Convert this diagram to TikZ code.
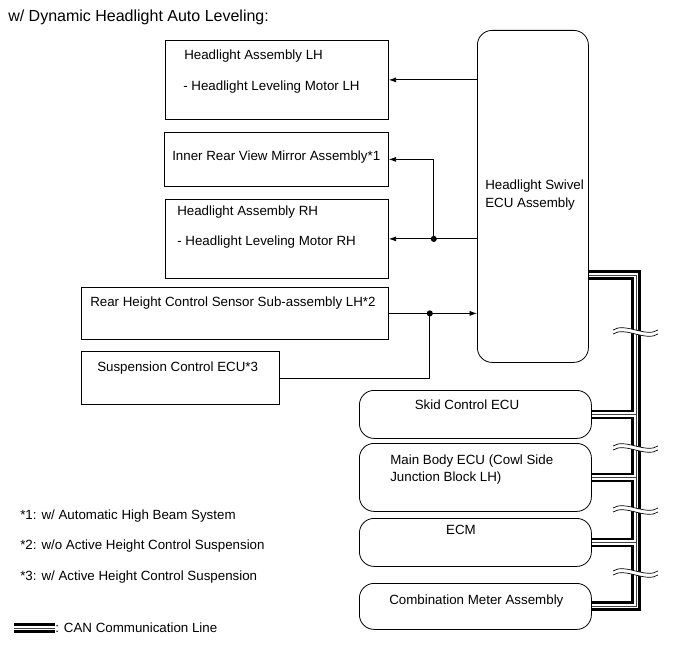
\documentclass[tikz,border=0pt]{standalone}
\usepackage{fontspec}
\setmainfont{Liberation Sans}
\usepackage{tikz}
\usetikzlibrary{arrows.meta}

\tikzset{
  box/.style 2 args={draw, line width=0.6pt, minimum width=#1*0.75pt, minimum height=#2*0.75pt, inner sep=0pt, anchor=north west},
  rbox/.style 2 args={box={#1}{#2}, rounded corners=11pt},
  lbl/.style={inner sep=0pt, anchor=west, text height=7.2pt, text depth=0pt, font=\fontsize{10}{12}\selectfont},
  wire/.style={line width=0.6pt},
  tip/.style={-{Latex[length=5.5pt,width=3.8pt]}},
  canbk/.style={line width=6.9pt, black},
  canwh/.style={line width=3.6pt, white},
  canmid/.style={line width=0.55pt, black!75},
}

\begin{document}
\begin{tikzpicture}[x=0.75pt, y=-0.75pt]
\useasboundingbox (0,0) rectangle (689,659);
\node[lbl, font=\fontsize{12}{14}\selectfont] (title) at (8,17) {w/ Dynamic Headlight Auto Leveling:};

\node[box={223}{79}] (hlLH) at (165,40) {};
\node[box={224}{54}] (mirror) at (164,132) {};
\node[box={223}{79}] (hlRH) at (165,199) {};
\node[box={307}{52}] (sensor) at (81,287) {};
\node[box={198}{53}] (susp) at (81,351) {};
\node[rbox={111}{332}] (ecu) at (477,30) {};
\node[rbox={232}{48}] (skid) at (359,390) {};
\node[rbox={232}{68}] (mbecu) at (359,443) {};
\node[rbox={232}{48}] (ecm) at (359,518) {};
\node[rbox={232}{46}] (combo) at (359,583) {};

\node[lbl] (hlLHa) at (184,55) {Headlight Assembly LH};
\node[lbl] (hlLHb) at (183,86) {- Headlight Leveling Motor LH};
\node[lbl] (mirrort) at (172,156) {Inner Rear View Mirror Assembly*1};
\node[lbl] (hlRHa) at (177,211) {Headlight Assembly RH};
\node[lbl] (hlRHb) at (177,241) {- Headlight Leveling Motor RH};
\node[lbl] (sensort) at (90,302) {Rear Height Control Sensor Sub-assembly LH*2};
\node[lbl] (suspt) at (97,367) {Suspension Control ECU*3};
\node[lbl] (ecua) at (485,185) {Headlight Swivel};
\node[lbl] (ecub) at (485,203) {ECU Assembly};
\node[lbl, anchor=center] (skidt) at (467,405) {Skid Control ECU};
\node[lbl] (mba) at (390,460) {Main Body ECU (Cowl Side};
\node[lbl] (mbb) at (390,477) {Junction Block LH)};
\node[lbl, anchor=center] (ecmt) at (461,530) {ECM};
\node[lbl] (combot) at (389,600) {Combination Meter Assembly};

\node[lbl] (note1) at (20,515) {*1: w/ Automatic High Beam System};
\node[lbl] (note2) at (20,545) {*2: w/o Active Height Control Suspension};
\node[lbl] (note3) at (20,576) {*3: w/ Active Height Control Suspension};

\draw[wire, tip] (ecu.west |- hlLH.east) -- (hlLH.east);
\draw[wire, tip] (ecu.west |- hlRH.east) -- (hlRH.east);
\path (hlRH.east) ++(45,0) coordinate (jm);
\draw[wire, tip] (jm) |- (mirror.east);
\fill (jm) circle (2.3pt);
\draw[wire, tip] (sensor.east) -- (ecu.west |- sensor.east);
\path (sensor.east) ++(41,0) coordinate (js);
\draw[wire] (susp.east) -| (js);
\fill (js) circle (2.3pt);

% CAN bus
\coordinate (busTop) at (636,275);
\coordinate (busBot) at (636,606);
\coordinate (canA) at (14,628);
\coordinate (canB) at (55,628);
\foreach \s in {canbk,canwh,canmid} {
  \draw[\s, line join=miter] (ecu.east |- busTop) -- (busTop) -- (busBot) -- (combo.east |- busBot);
  \draw[\s] (skid.east) -- (skid.east -| busTop);
  \draw[\s] (mbecu.east) -- (mbecu.east -| busTop);
  \draw[\s] (ecm.east) -- (ecm.east -| busTop);
  \draw[\s] (canA) -- (canB);
}
\foreach \yb in {332,448,510,573} {
  \fill[white] (613,\yb-2) .. controls (625,\yb-10) and (646,\yb+6) .. (658,\yb-2) -- (658,\yb+2) .. controls (646,\yb+10) and (625,\yb-6) .. (613,\yb+2) -- cycle;
  \draw[line width=0.5pt] (613,\yb-2) .. controls (625,\yb-10) and (646,\yb+6) .. (658,\yb-2);
  \draw[line width=0.5pt] (613,\yb+2) .. controls (625,\yb-6) and (646,\yb+10) .. (658,\yb+2);
}
\node[lbl] (cant) at (canB) {: CAN Communication Line};
\end{tikzpicture}
\end{document}
